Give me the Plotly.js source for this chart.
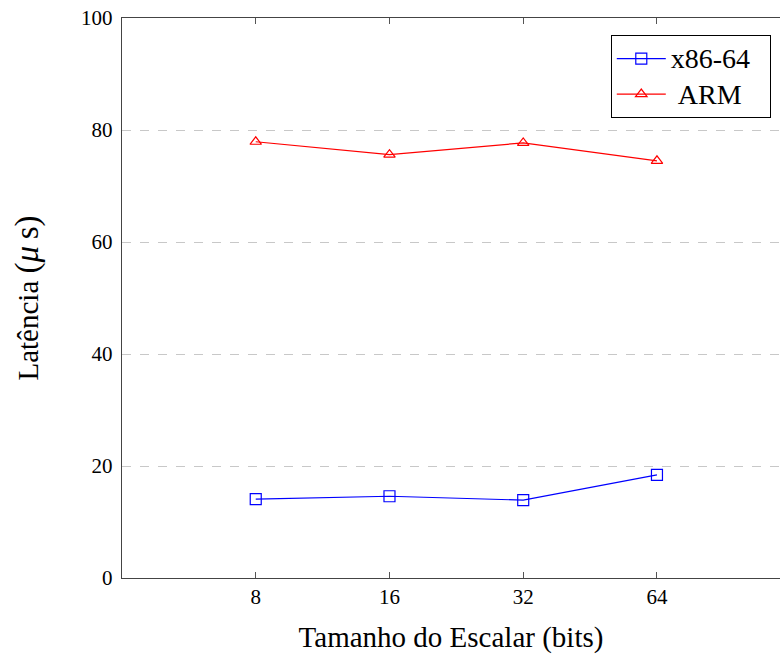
<!DOCTYPE html>
<html><head><meta charset="utf-8">
<script src="https://cdn.plot.ly/plotly-3.0.1.min.js"></script>
<style>html,body{margin:0;padding:0;overflow:hidden;background:#fff}</style>
</head><body><div id="chart" style="width:780px;height:660px"></div>
<script>
const categories = ["8", "16", "32", "64"];
const seriesNames = ["x86-64", "ARM"];
const x86Values = [14.1, 14.6, 13.9, 18.4];
const armValues = [77.9, 75.6, 77.7, 74.5];

const fontFam = "Liberation Serif, Times New Roman, serif";
const big = s => '<span style="font-size:28px">' + s + '</span>';
const traces = [
  {x: [0,1,2,3], y: x86Values, name: big(seriesNames[0] + "\u00a0\u00a0"), mode: "lines+markers", type: "scatter",
   line: {color: "#0000ff", width: 1.2},
   marker: {symbol: "square-open", size: 11, color: "#0000ff", line: {width: 1.2}}},
  {x: [0,1,2,3], y: armValues, name: big("\u00a0" + seriesNames[1]), mode: "lines+markers", type: "scatter",
   line: {color: "#ff0000", width: 1.2},
   marker: {symbol: "triangle-up-open", size: 10, color: "#ff0000", line: {width: 1.2}}}
];
const layout = {
  width: 780, height: 660,
  margin: {l: 122, r: 0, t: 18, b: 82},
  paper_bgcolor: "#fff", plot_bgcolor: "#fff",
  font: {family: fontFam, color: "#000", size: 21},
  showlegend: true,
  legend: {x: 0.986, y: 0.97, xanchor: "right", yanchor: "top",
    bordercolor: "#000", borderwidth: 1, bgcolor: "#fff", itemwidth: 49,
    font: {family: fontFam, size: 25}},
  xaxis: {
    range: [-1, 3.92], tickmode: "array", tickvals: [0,1,2,3], ticktext: categories,
    ticks: "inside", ticklen: 6, tickcolor: "#555", showgrid: false, zeroline: false,
    showline: true, linecolor: "#444", linewidth: 1.2, mirror: "ticks",
    title: {text: "Tamanho do Escalar (bits)", font: {family: fontFam, size: 29}, standoff: 18},
    tickfont: {family: fontFam, size: 21}
  },
  yaxis: {
    range: [0, 100], tickvals: [0,20,40,60,80,100], ticks: "", ticklabelstandoff: 4,
    showgrid: true, gridcolor: "#c8c8c8", griddash: "dash", gridwidth: 1, zeroline: false,
    showline: true, linecolor: "#444", linewidth: 1.2,
    title: {text: "Latência <span style=\"font-size:33px\">(<i>μ</i>\u2009s)</span>", font: {family: fontFam, size: 29}, standoff: 34},
    tickfont: {family: fontFam, size: 21}
  }
};
Plotly.newPlot("chart", traces, layout, {displayModeBar: false, staticPlot: true});
</script></body></html>
